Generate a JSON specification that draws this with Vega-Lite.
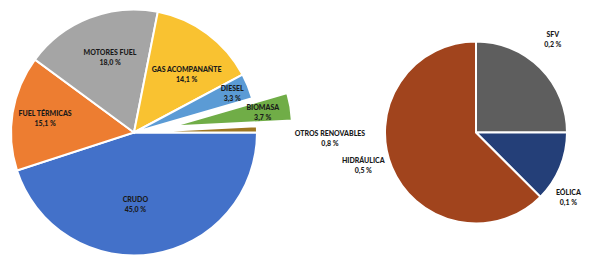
{
  "$schema": "https://vega.github.io/schema/vega-lite/v6.json",
  "padding": 0,
  "background": "white",
  "bounds": "flush",
  "spacing": 113,
  "config": {
    "view": {"stroke": null},
    "locale": {"number": {"decimal": ",", "thousands": ".", "grouping": [3], "currency": ["", " €"], "percent": " %"}},
    "text": {"font": "Lato", "fontSize": 7, "fontWeight": 900, "fill": "#1a1a1a"}
  },
  "resolve": {"scale": {"theta": "independent", "color": "independent"}},
  "hconcat": [
    {
      "width": 268,
      "height": 265,
      "data": {"values": [
        {"k": 1, "name": "CRUDO", "share": 0.450},
        {"k": 2, "name": "FUEL TÉRMICAS", "share": 0.151},
        {"k": 3, "name": "MOTORES FUEL", "share": 0.180},
        {"k": 4, "name": "GAS ACOMPANAÑTE", "share": 0.141},
        {"k": 5, "name": "DIESEL", "share": 0.033},
        {"k": 6, "name": "BIOMASA", "share": 0.037},
        {"k": 7, "name": "OTROS RENOVABLES", "share": 0.008}
      ]},
      "encoding": {
        "theta": {"field": "share", "type": "quantitative", "stack": true, "scale": {"domain": [0, 1], "range": [1.5708, 7.854], "nice": false, "zero": true}},
        "order": {"field": "k", "type": "quantitative"}
      },
      "layer": [
        {
          "mark": {"type": "arc", "radius": 123, "stroke": "white", "strokeWidth": 2},
          "encoding": {
            "color": {"field": "name", "type": "nominal", "legend": null, "scale": {"domain": ["CRUDO", "FUEL TÉRMICAS", "MOTORES FUEL", "GAS ACOMPANAÑTE", "DIESEL", "BIOMASA", "OTROS RENOVABLES"], "range": ["#4371c9", "#ed7d31", "#a5a5a5", "#f9c231", "#5b9bd5", "#70ad47", "#9e7620"]}},
            "opacity": {"condition": {"test": "datum.name === 'BIOMASA'", "value": 0}, "value": 1}
          }
        },
        {
          "mark": {"type": "arc", "radius": 120, "stroke": "white", "strokeWidth": 2, "xOffset": 38, "yOffset": -6},
          "encoding": {
            "color": {"field": "name", "type": "nominal", "legend": null},
            "opacity": {"condition": {"test": "datum.name === 'BIOMASA'", "value": 1}, "value": 0}
          }
        },
        {"mark": {"type": "text", "radius": 73, "dx": -10, "dy": -5}, "encoding": {"text": {"field": "name"}, "opacity": {"condition": {"test": "datum.name === 'CRUDO'", "value": 1}, "value": 0}}},
        {"mark": {"type": "text", "radius": 73, "dx": -10, "dy": 5}, "encoding": {"text": {"field": "share", "type": "quantitative", "format": ".1%"}, "opacity": {"condition": {"test": "datum.name === 'CRUDO'", "value": 1}, "value": 0}}},
        {"mark": {"type": "text", "radius": 90, "dx": 0, "dy": -4}, "encoding": {"text": {"field": "name"}, "opacity": {"condition": {"test": "datum.name === 'FUEL TÉRMICAS'", "value": 1}, "value": 0}}},
        {"mark": {"type": "text", "radius": 90, "dx": 0, "dy": 6}, "encoding": {"text": {"field": "share", "type": "quantitative", "format": ".1%"}, "opacity": {"condition": {"test": "datum.name === 'FUEL TÉRMICAS'", "value": 1}, "value": 0}}},
        {"mark": {"type": "text", "radius": 80, "dx": 5, "dy": -5}, "encoding": {"text": {"field": "name"}, "opacity": {"condition": {"test": "datum.name === 'MOTORES FUEL'", "value": 1}, "value": 0}}},
        {"mark": {"type": "text", "radius": 80, "dx": 5, "dy": 5}, "encoding": {"text": {"field": "share", "type": "quantitative", "format": ".1%"}, "opacity": {"condition": {"test": "datum.name === 'MOTORES FUEL'", "value": 1}, "value": 0}}},
        {"mark": {"type": "text", "radius": 75, "dx": 8, "dy": -2}, "encoding": {"text": {"field": "name"}, "opacity": {"condition": {"test": "datum.name === 'GAS ACOMPANAÑTE'", "value": 1}, "value": 0}}},
        {"mark": {"type": "text", "radius": 75, "dx": 8, "dy": 8}, "encoding": {"text": {"field": "share", "type": "quantitative", "format": ".1%"}, "opacity": {"condition": {"test": "datum.name === 'GAS ACOMPANAÑTE'", "value": 1}, "value": 0}}},
        {"mark": {"type": "text", "radius": 105, "dx": 1, "dy": -4}, "encoding": {"text": {"field": "name"}, "opacity": {"condition": {"test": "datum.name === 'DIESEL'", "value": 1}, "value": 0}}},
        {"mark": {"type": "text", "radius": 105, "dx": 1, "dy": 6}, "encoding": {"text": {"field": "share", "type": "quantitative", "format": ".1%"}, "opacity": {"condition": {"test": "datum.name === 'DIESEL'", "value": 1}, "value": 0}}},
        {"mark": {"type": "text", "radius": 92, "dx": 38, "dy": -9}, "encoding": {"text": {"field": "name"}, "opacity": {"condition": {"test": "datum.name === 'BIOMASA'", "value": 1}, "value": 0}}},
        {"mark": {"type": "text", "radius": 92, "dx": 38, "dy": 1}, "encoding": {"text": {"field": "share", "type": "quantitative", "format": ".1%"}, "opacity": {"condition": {"test": "datum.name === 'BIOMASA'", "value": 1}, "value": 0}}},
        {"mark": {"type": "text", "radius": 123, "dx": 73, "dy": 5}, "encoding": {"text": {"field": "name"}, "opacity": {"condition": {"test": "datum.name === 'OTROS RENOVABLES'", "value": 1}, "value": 0}}},
        {"mark": {"type": "text", "radius": 123, "dx": 73, "dy": 15}, "encoding": {"text": {"field": "share", "type": "quantitative", "format": ".1%"}, "opacity": {"condition": {"test": "datum.name === 'OTROS RENOVABLES'", "value": 1}, "value": 0}}}
      ]
    },
    {
      "width": 190,
      "height": 265,
      "data": {"values": [
        {"k": 1, "name": "SFV", "share": 0.002},
        {"k": 2, "name": "EÓLICA", "share": 0.001},
        {"k": 3, "name": "HIDRÁULICA", "share": 0.005}
      ]},
      "encoding": {
        "theta": {"field": "share", "type": "quantitative", "stack": true, "scale": {"domain": [0, 0.008], "nice": false, "zero": true}},
        "order": {"field": "k", "type": "quantitative"}
      },
      "layer": [
        {
          "mark": {"type": "arc", "radius": 91, "stroke": "white", "strokeWidth": 2},
          "encoding": {
            "color": {"field": "name", "type": "nominal", "legend": null, "scale": {"domain": ["SFV", "EÓLICA", "HIDRÁULICA"], "range": ["#5e5e5e", "#243f78", "#a1441d"]}}
          }
        },
        {"mark": {"type": "text", "radius": 110, "dx": -1, "dy": -20}, "encoding": {"text": {"field": "name"}, "opacity": {"condition": {"test": "datum.name === 'SFV'", "value": 1}, "value": 0}}},
        {"mark": {"type": "text", "radius": 110, "dx": -1, "dy": -10}, "encoding": {"text": {"field": "share", "type": "quantitative", "format": ".1%"}, "opacity": {"condition": {"test": "datum.name === 'SFV'", "value": 1}, "value": 0}}},
        {"mark": {"type": "text", "radius": 100, "dx": 0, "dy": 22}, "encoding": {"text": {"field": "name"}, "opacity": {"condition": {"test": "datum.name === 'EÓLICA'", "value": 1}, "value": 0}}},
        {"mark": {"type": "text", "radius": 100, "dx": 0, "dy": 32}, "encoding": {"text": {"field": "share", "type": "quantitative", "format": ".1%"}, "opacity": {"condition": {"test": "datum.name === 'EÓLICA'", "value": 1}, "value": 0}}},
        {"mark": {"type": "text", "radius": 122, "dx": 0, "dy": -18}, "encoding": {"text": {"field": "name"}, "opacity": {"condition": {"test": "datum.name === 'HIDRÁULICA'", "value": 1}, "value": 0}}},
        {"mark": {"type": "text", "radius": 122, "dx": 0, "dy": -8}, "encoding": {"text": {"field": "share", "type": "quantitative", "format": ".1%"}, "opacity": {"condition": {"test": "datum.name === 'HIDRÁULICA'", "value": 1}, "value": 0}}}
      ]
    }
  ]
}
